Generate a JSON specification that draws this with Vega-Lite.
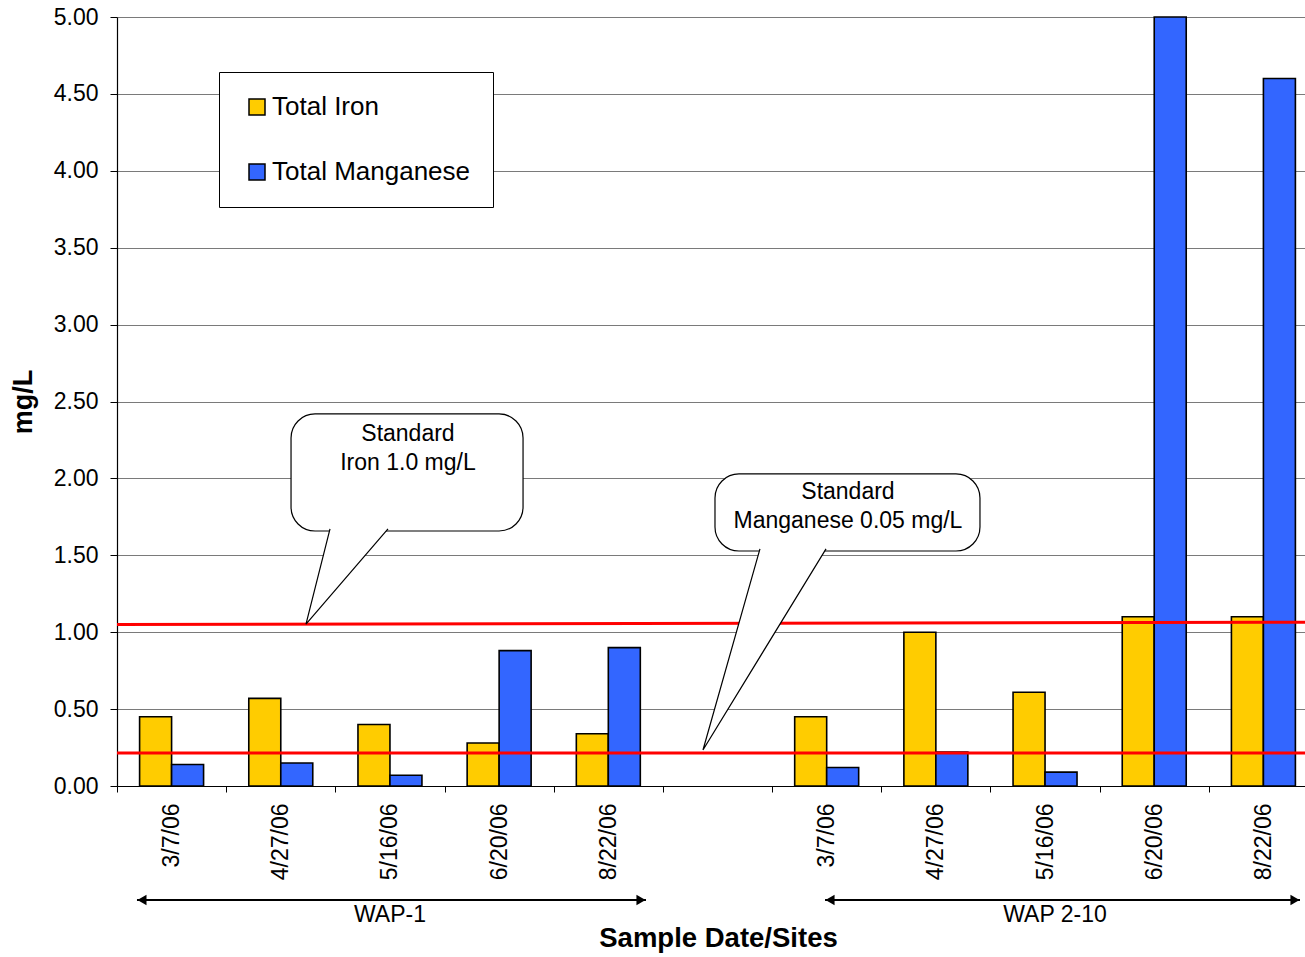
{
  "$schema": "https://vega.github.io/schema/vega-lite/v6.json",
  "width": 1201,
  "height": 769,
  "autosize": {"type": "none"},
  "padding": {"left": 117, "top": 17, "right": -13, "bottom": 171},
  "background": "white",
  "config": {
    "font": "Liberation Sans",
    "view": {"stroke": null},
    "axis": {"labelColor": "black", "titleColor": "black", "labelFont": "Liberation Sans", "titleFont": "Liberation Sans"},
    "legend": {"labelFont": "Liberation Sans"}
  },
  "datasets": {
    "readings": [
      {"site": "WAP-1", "date": "3/7/06", "series": "Total Iron", "value": 0.45},
      {"site": "WAP-1", "date": "3/7/06", "series": "Total Manganese", "value": 0.14},
      {"site": "WAP-1", "date": "4/27/06", "series": "Total Iron", "value": 0.57},
      {"site": "WAP-1", "date": "4/27/06", "series": "Total Manganese", "value": 0.15},
      {"site": "WAP-1", "date": "5/16/06", "series": "Total Iron", "value": 0.40},
      {"site": "WAP-1", "date": "5/16/06", "series": "Total Manganese", "value": 0.07},
      {"site": "WAP-1", "date": "6/20/06", "series": "Total Iron", "value": 0.28},
      {"site": "WAP-1", "date": "6/20/06", "series": "Total Manganese", "value": 0.88},
      {"site": "WAP-1", "date": "8/22/06", "series": "Total Iron", "value": 0.34},
      {"site": "WAP-1", "date": "8/22/06", "series": "Total Manganese", "value": 0.90},
      {"site": "WAP 2-10", "date": "3/7/06", "series": "Total Iron", "value": 0.45},
      {"site": "WAP 2-10", "date": "3/7/06", "series": "Total Manganese", "value": 0.12},
      {"site": "WAP 2-10", "date": "4/27/06", "series": "Total Iron", "value": 1.00},
      {"site": "WAP 2-10", "date": "4/27/06", "series": "Total Manganese", "value": 0.22},
      {"site": "WAP 2-10", "date": "5/16/06", "series": "Total Iron", "value": 0.61},
      {"site": "WAP 2-10", "date": "5/16/06", "series": "Total Manganese", "value": 0.09},
      {"site": "WAP 2-10", "date": "6/20/06", "series": "Total Iron", "value": 1.10},
      {"site": "WAP 2-10", "date": "6/20/06", "series": "Total Manganese", "value": 5.00},
      {"site": "WAP 2-10", "date": "8/22/06", "series": "Total Iron", "value": 1.10},
      {"site": "WAP 2-10", "date": "8/22/06", "series": "Total Manganese", "value": 4.60}
    ],
    "standardLines": [
      {"standard": "Iron", "x": 0, "x2": 11, "y": 1.05, "y2": 1.065},
      {"standard": "Manganese", "x": 0, "x2": 11, "y": 0.215, "y2": 0.215}
    ],
    "calloutBoxes": [
      {"standard": "Iron", "x": 1.594, "x2": 3.719, "y": 2.419, "y2": 1.658},
      {"standard": "Manganese", "x": 5.477, "x2": 7.904, "y": 2.029, "y2": 1.528}
    ],
    "calloutPointers": [
      {"standard": "Iron", "k": 1, "x": 1.951, "y": 1.672},
      {"standard": "Iron", "k": 2, "x": 1.731, "y": 1.053},
      {"standard": "Iron", "k": 3, "x": 2.482, "y": 1.672},
      {"standard": "Manganese", "k": 1, "x": 5.889, "y": 1.542},
      {"standard": "Manganese", "k": 2, "x": 5.367, "y": 0.234},
      {"standard": "Manganese", "k": 3, "x": 6.494, "y": 1.542}
    ],
    "calloutText": [
      {"x": 2.665, "y": 2.289, "line": "Standard"},
      {"x": 2.665, "y": 2.100, "line": "Iron 1.0 mg/L"},
      {"x": 6.695, "y": 1.912, "line": "Standard"},
      {"x": 6.695, "y": 1.723, "line": "Manganese 0.05 mg/L"}
    ],
    "siteSpans": [
      {"site": "WAP-1", "x": 0.183, "x2": 4.845, "mid": 2.5},
      {"site": "WAP 2-10", "x": 6.485, "x2": 10.835, "mid": 8.591}
    ]
  },
  "layer": [
    {
      "data": {"name": "readings"},
      "transform": [{"calculate": "datum.site + '|' + datum.date", "as": "slot"}],
      "mark": {"type": "bar", "stroke": "black", "strokeWidth": 1.6},
      "encoding": {
        "x": {
          "field": "slot",
          "type": "nominal",
          "scale": {
            "domain": ["WAP-1|3/7/06", "WAP-1|4/27/06", "WAP-1|5/16/06", "WAP-1|6/20/06", "WAP-1|8/22/06", "gap",
                       "WAP 2-10|3/7/06", "WAP 2-10|4/27/06", "WAP 2-10|5/16/06", "WAP 2-10|6/20/06", "WAP 2-10|8/22/06"],
            "paddingInner": 0.414,
            "paddingOuter": 0.207
          },
          "axis": {
            "title": "Sample Date/Sites",
            "titleX": 601,
            "labelExpr": "datum.value == 'gap' ? '' : split(datum.value, '|')[1]",
            "labelAngle": -90,
            "labelAlign": "right",
            "labelBaseline": "middle",
            "labelFontSize": 23,
            "labelPadding": 11,
            "labelOverlap": false,
            "tickOffset": -54.6,
            "labelOffset": 54.6,
            "tickSize": 6,
            "tickColor": "black",
            "domainColor": "black",
            "domainWidth": 1.2,
            "grid": false,
            "titleFontSize": 27.5,
            "titleFontWeight": "bold",
            "titlePadding": 45
          }
        },
        "xOffset": {
          "field": "series",
          "type": "nominal",
          "scale": {"domain": ["Total Iron", "Total Manganese"], "paddingInner": 0, "paddingOuter": 0}
        },
        "y": {
          "field": "value",
          "type": "quantitative",
          "title": "mg/L",
          "scale": {"domain": [0, 5], "nice": false},
          "axis": {
            "values": [0, 0.5, 1, 1.5, 2, 2.5, 3, 3.5, 4, 4.5, 5],
            "format": ".2f",
            "grid": true,
            "gridColor": "#7a7a7a",
            "gridWidth": 1.2,
            "labelFontSize": 23,
            "labelPadding": 12,
            "tickSize": 7,
            "tickColor": "black",
            "domainColor": "black",
            "domainWidth": 1.2,
            "titleFontSize": 27,
            "titleFontWeight": "bold",
            "titlePadding": 16
          }
        },
        "color": {
          "field": "series",
          "type": "nominal",
          "scale": {"domain": ["Total Iron", "Total Manganese"], "range": ["#FFCC00", "#3366FF"]},
          "legend": {
            "title": null,
            "orient": "none",
            "legendX": 102,
            "legendY": 55,
            "fillColor": "white",
            "strokeColor": "black",
            "padding": 22,
            "rowPadding": 39,
            "symbolType": "square",
            "symbolSize": 256,
            "symbolStrokeColor": "black",
            "symbolStrokeWidth": 1.5,
            "symbolOffset": 3,
            "labelOffset": 2,
            "labelFontSize": 26,
            "labelLimit": 400,
            "labelColor": "black"
          }
        }
      }
    },
    {
      "data": {"name": "standardLines"},
      "mark": {"type": "rule", "color": "#FF0000", "strokeWidth": 3},
      "encoding": {
        "x": {"field": "x", "type": "quantitative", "scale": {"domain": [0, 11]}, "axis": null},
        "x2": {"field": "x2"},
        "y": {"field": "y", "type": "quantitative", "title": "mg/L"},
        "y2": {"field": "y2"}
      }
    },
    {
      "data": {"name": "calloutBoxes"},
      "mark": {"type": "rect", "fill": "white", "stroke": "black", "strokeWidth": 1.2, "cornerRadius": 24},
      "encoding": {
        "x": {"field": "x", "type": "quantitative", "scale": {"domain": [0, 11]}, "axis": null},
        "x2": {"field": "x2"},
        "y": {"field": "y", "type": "quantitative", "title": "mg/L"},
        "y2": {"field": "y2"}
      }
    },
    {
      "data": {"name": "calloutPointers"},
      "mark": {"type": "line", "fill": "white", "stroke": "black", "strokeWidth": 1.2},
      "encoding": {
        "x": {"field": "x", "type": "quantitative", "scale": {"domain": [0, 11]}, "axis": null},
        "y": {"field": "y", "type": "quantitative", "title": "mg/L"},
        "detail": {"field": "standard"},
        "order": {"field": "k"}
      }
    },
    {
      "data": {"name": "calloutText"},
      "mark": {"type": "text", "fontSize": 23, "color": "black", "align": "center", "baseline": "middle"},
      "encoding": {
        "x": {"field": "x", "type": "quantitative", "scale": {"domain": [0, 11]}, "axis": null},
        "y": {"field": "y", "type": "quantitative", "title": "mg/L"},
        "text": {"field": "line"}
      }
    },
    {
      "data": {"name": "siteSpans"},
      "layer": [
        {
          "mark": {"type": "rule", "color": "black", "strokeWidth": 2},
          "encoding": {
            "x": {"field": "x", "type": "quantitative", "scale": {"domain": [0, 11]}, "axis": null},
            "x2": {"field": "x2"},
            "y": {"datum": -0.741, "type": "quantitative", "title": "mg/L"}
          }
        },
        {
          "mark": {"type": "point", "shape": "triangle-left", "filled": true, "color": "black", "size": 110, "opacity": 1, "xOffset": 5},
          "encoding": {
            "x": {"field": "x", "type": "quantitative", "scale": {"domain": [0, 11]}, "axis": null},
            "y": {"datum": -0.741, "type": "quantitative", "title": "mg/L"}
          }
        },
        {
          "mark": {"type": "point", "shape": "triangle-right", "filled": true, "color": "black", "size": 110, "opacity": 1, "xOffset": -5},
          "encoding": {
            "x": {"field": "x2", "type": "quantitative", "scale": {"domain": [0, 11]}, "axis": null},
            "y": {"datum": -0.741, "type": "quantitative", "title": "mg/L"}
          }
        },
        {
          "mark": {"type": "text", "fontSize": 23, "color": "black", "align": "center", "baseline": "middle"},
          "encoding": {
            "x": {"field": "mid", "type": "quantitative", "scale": {"domain": [0, 11]}, "axis": null},
            "y": {"datum": -0.839, "type": "quantitative", "title": "mg/L"},
            "text": {"field": "site"}
          }
        }
      ]
    }
  ],
  "resolve": {"scale": {"x": "independent"}}
}
